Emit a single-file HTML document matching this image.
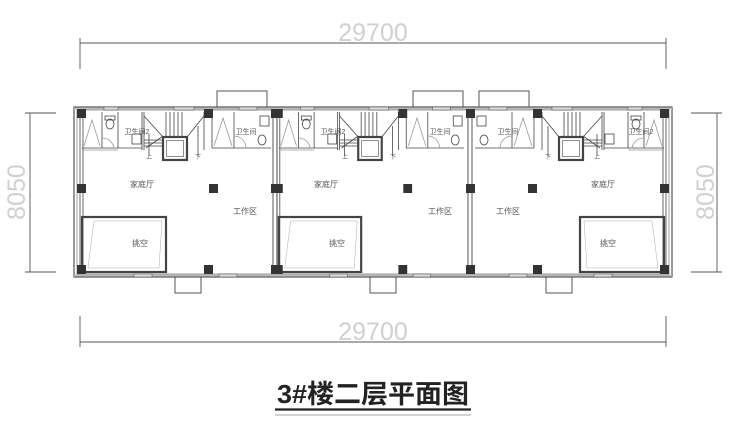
<!DOCTYPE html>
<html><head><meta charset="utf-8"><style>
html,body{margin:0;padding:0;background:#fff;width:740px;height:426px;overflow:hidden}
svg{display:block}
.cn{font-family:"Liberation Sans","Noto Sans CJK SC",sans-serif;font-size:8px;fill:#555}
.dim{font-family:"Liberation Sans Narrow","Liberation Sans",sans-serif;font-size:25px;fill:#d0d0d0}
</style></head><body>
<svg width="740" height="426" viewBox="0 0 740 426" xmlns="http://www.w3.org/2000/svg">
<defs>
<g id="unit" stroke="#444" fill="none" stroke-width="0.8">
  <line x1="6" y1="112" x2="6" y2="272"/>
  <line x1="9" y1="112" x2="9" y2="272"/>
  <line x1="8" y1="148" x2="68" y2="148"/>
  <line x1="138" y1="148" x2="197" y2="148"/>
  <line x1="8" y1="150" x2="44" y2="150" stroke="#999"/>
  <line x1="28" y1="112" x2="28" y2="148"/>
  <line x1="44" y1="112" x2="44" y2="148"/>
  <line x1="68" y1="112" x2="68" y2="150"/>
  <line x1="70" y1="112" x2="70" y2="150"/>
  <line x1="130" y1="112" x2="130" y2="150"/>
  <line x1="138" y1="112" x2="138" y2="148"/>
  <line x1="160" y1="112" x2="160" y2="148"/>
  <polyline points="10,146 18,120 26,146" stroke="#999"/>
  <polyline points="140,146 149,118 158,146" stroke="#999"/>
  <ellipse cx="36" cy="124" rx="4" ry="5"/>
  <rect x="31" y="116" width="10" height="4"/>
  <rect x="58" y="134" width="9" height="10"/>
  <path d="M28 138 A12 12 0 0 1 40 148" stroke="#999"/>
  <path d="M160 136 A12 12 0 0 1 172 148" stroke="#999"/>
  <ellipse cx="188" cy="140" rx="4" ry="5"/>
  <rect x="186" y="116" width="9" height="10"/>
  <line x1="70" y1="116" x2="89" y2="137"/>
  <line x1="130" y1="116" x2="113" y2="137"/>
  <line x1="96" y1="112" x2="96" y2="137"/>
  <line x1="100" y1="112" x2="100" y2="137"/>
  <line x1="104" y1="112" x2="104" y2="137"/>
  <line x1="108" y1="112" x2="108" y2="137"/>
  <line x1="92" y1="112" x2="92" y2="137"/>
  <line x1="70" y1="140" x2="89" y2="140"/>
  <line x1="70" y1="143" x2="89" y2="143"/>
  <line x1="70" y1="146" x2="89" y2="146"/>
  <line x1="72" y1="148" x2="89" y2="136"/>
  <line x1="75" y1="134" x2="75" y2="156"/>
  <line x1="124" y1="126" x2="124" y2="156"/>
  <rect x="89" y="137" width="24" height="23" stroke-width="2.2"/>
  <rect x="92.5" y="140.5" width="17" height="16" stroke-width="0.6"/>
  <rect x="8" y="217" width="84" height="55" stroke-width="2.2"/>
  <polyline points="20,221 88,221 85,268 14,268 20,221" stroke="#aaa" stroke-width="0.5"/>
  <g fill="#333" stroke="none">
    <rect x="3" y="109" width="9" height="9"/>
    <rect x="130" y="109" width="9" height="9"/>
    <rect x="3" y="184" width="9" height="9"/>
    <rect x="135" y="184" width="9" height="9"/>
    <rect x="3" y="265" width="9" height="9"/>
    <rect x="130" y="265" width="9" height="9"/>
  </g>
  <g fill="#ddd" stroke="#555" stroke-width="0.6">
    <rect x="30" y="107" width="14" height="3"/>
    <rect x="100" y="107" width="20" height="3"/>
    <rect x="165" y="107" width="18" height="3"/>
    <rect x="60" y="274" width="18" height="3"/>
    <rect x="145" y="274" width="18" height="3"/>
  </g>
</g>
</defs>

<g stroke="#555" stroke-width="0.9" fill="none">
  <line x1="80" y1="43" x2="666" y2="43"/>
  <line x1="80" y1="38" x2="80" y2="69"/>
  <line x1="666" y1="38" x2="666" y2="69"/>
  <line x1="80" y1="342" x2="666" y2="342"/>
  <line x1="80" y1="316" x2="80" y2="347"/>
  <line x1="666" y1="316" x2="666" y2="347"/>
  <line x1="30" y1="113" x2="30" y2="272"/>
  <line x1="25" y1="113" x2="56" y2="113"/>
  <line x1="25" y1="272" x2="56" y2="272"/>
  <line x1="717" y1="113" x2="717" y2="272"/>
  <line x1="691" y1="113" x2="722" y2="113"/>
  <line x1="691" y1="272" x2="722" y2="272"/>
</g>
<text class="dim" x="373" y="41" text-anchor="middle">29700</text>
<text class="dim" x="373" y="340" text-anchor="middle">29700</text>
<text class="dim" transform="translate(25,192) rotate(-90)" text-anchor="middle">8050</text>
<text class="dim" transform="translate(714,192) rotate(-90)" text-anchor="middle">8050</text>

<g stroke="#444" stroke-width="0.9" fill="#fff">
  <rect x="217" y="91" width="50" height="16"/>
  <rect x="413" y="91" width="50" height="16"/>
  <rect x="479" y="91" width="50" height="16"/>
  <rect x="175" y="277" width="26" height="16"/>
  <rect x="370" y="277" width="26" height="16"/>
  <rect x="546" y="277" width="26" height="16"/>
</g>

<rect x="74" y="107" width="598" height="170" fill="none" stroke="#555" stroke-width="1.2"/>
<rect x="77" y="110" width="592" height="164" fill="none" stroke="#888" stroke-width="0.8"/>
<line x1="74" y1="108.5" x2="672" y2="108.5" stroke="#bbb" stroke-width="2"/>
<line x1="74" y1="275.5" x2="672" y2="275.5" stroke="#bbb" stroke-width="2"/>

<g stroke="#444" stroke-width="0.9">
  <line x1="273" y1="112" x2="273" y2="272"/><line x1="277" y1="112" x2="277" y2="272"/>
  <line x1="468" y1="112" x2="468" y2="272"/><line x1="472" y1="112" x2="472" y2="272"/>
</g>

<use href="#unit" transform="translate(74,0)"/>
<use href="#unit" transform="translate(271,0) scale(0.98,1)"/>
<use href="#unit" transform="translate(672,0) scale(-1,1)"/>

<g fill="#333">
  <rect x="271" y="109" width="9" height="9"/><rect x="271" y="184" width="9" height="9"/><rect x="271" y="265" width="9" height="9"/>
  <rect x="466" y="109" width="9" height="9"/><rect x="466" y="184" width="9" height="9"/><rect x="466" y="265" width="9" height="9"/>
</g>

<g class="cn" text-anchor="middle">
  <text x="142" y="187">家庭厅</text><text x="245" y="214">工作区</text><text x="140" y="246">挑空</text>
  <text x="326" y="187">家庭厅</text><text x="440" y="214">工作区</text><text x="337" y="246">挑空</text>
  <text x="603" y="187">家庭厅</text><text x="508" y="214">工作区</text><text x="608" y="246">挑空</text>
  <text x="137" y="134" font-size="7">卫生间2</text><text x="246" y="134" font-size="7">卫生间</text>
  <text x="333" y="134" font-size="7">卫生间2</text><text x="440" y="134" font-size="7">卫生间</text>
  <text x="508" y="134" font-size="7">卫生间</text><text x="641" y="134" font-size="7">卫生间2</text>
  <text x="149" y="159" font-size="6">上</text><text x="198" y="159" font-size="6">下</text>
  <text x="345" y="159" font-size="6">上</text><text x="393" y="159" font-size="6">下</text>
  <text x="548" y="159" font-size="6">下</text><text x="597" y="159" font-size="6">上</text>
</g>

<text x="373" y="403" text-anchor="middle" textLength="192" lengthAdjust="spacingAndGlyphs" style="font-family:'Liberation Sans','Noto Sans CJK SC',sans-serif;font-size:26px;font-weight:bold;fill:#222">3#楼二层平面图</text>
<line x1="275" y1="409.5" x2="471" y2="409.5" stroke="#222" stroke-width="2.2"/>
<line x1="275" y1="415" x2="471" y2="415" stroke="#888" stroke-width="0.8"/>
</svg>
</body></html>
